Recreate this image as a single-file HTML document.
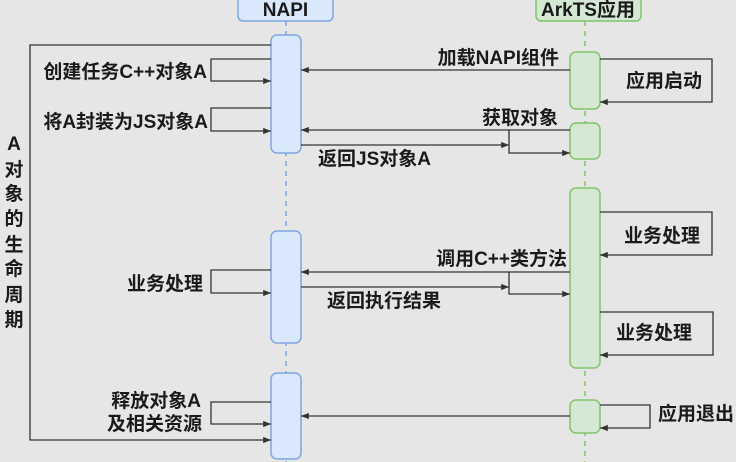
<!DOCTYPE html>
<html><head><meta charset="utf-8"><style>
html,body{margin:0;padding:0;background:#e6e6e6;}
svg{display:block;}
text{font-family:"Liberation Sans","Noto Sans CJK SC",sans-serif;font-weight:bold;font-size:19px;fill:#1a1a1a;}
</style></head><body>
<svg width="736" height="462" viewBox="0 0 736 462" xmlns="http://www.w3.org/2000/svg">
<defs>
<marker id="a" viewBox="0 0 10 10" refX="10" refY="5" markerWidth="6" markerHeight="6" orient="auto"><path d="M0,1 L10,5 L0,9 z" fill="#333"/></marker>
</defs>
<rect width="736" height="462" fill="#e6e6e6"/>
<line x1="286" y1="21" x2="286" y2="462" stroke="#7ea6e0" stroke-width="1.5" stroke-dasharray="5,5"/>
<line x1="585" y1="21" x2="585" y2="462" stroke="#82c46a" stroke-width="1.5" stroke-dasharray="5,5"/>
<rect x="238" y="-6" width="95" height="27" rx="5" fill="#dae8fc" stroke="#7ea6e0" stroke-width="1.5"/>
<text x="285.5" y="16" text-anchor="middle">NAPI</text>
<rect x="536" y="-6" width="105" height="27" rx="5" fill="#d5e8d4" stroke="#82c46a" stroke-width="1.5"/>
<text x="588" y="16" text-anchor="middle">ArkTS应用</text>
<g fill="#dae8fc" stroke="#7ea6e0" stroke-width="1.5">
<rect x="271" y="35" width="30" height="118" rx="6"/>
<rect x="271" y="231" width="30" height="112" rx="6"/>
<rect x="271" y="373" width="30" height="86" rx="6"/>
</g>
<g fill="#d5e8d4" stroke="#82c46a" stroke-width="1.5">
<rect x="570" y="52" width="30" height="57" rx="6"/>
<rect x="570" y="123" width="30" height="36" rx="6"/>
<rect x="570" y="188" width="30" height="180" rx="6"/>
<rect x="570" y="400" width="30" height="33" rx="6"/>
</g>
<g fill="none" stroke="#333" stroke-width="1.3" marker-end="url(#a)">
<polyline points="271,45 30,45 30,440 271,440"/>
<polyline points="271,59 211,59 211,81 271,81"/>
<polyline points="271,108 211,108 211,131 271,131"/>
<polyline points="271,270 211,270 211,293 271,293"/>
<polyline points="271,402 211,402 211,424 271,424"/>
<line x1="570" y1="70" x2="301" y2="70"/>
<line x1="570" y1="130" x2="301" y2="130"/>
<line x1="301" y1="145" x2="509" y2="145"/>
<polyline points="509,130 509,153 570,153"/>
<line x1="570" y1="272" x2="301" y2="272"/>
<line x1="301" y1="287" x2="509" y2="287"/>
<polyline points="509,272 509,294 570,294"/>
<line x1="570" y1="416" x2="301" y2="416"/>
<polyline points="600,59 712,59 712,102 600,102"/>
<polyline points="600,212 712,212 712,255 600,255"/>
<polyline points="600,312 713,312 713,355 600,355"/>
<polyline points="600,405 650,405 650,428 600,428"/>
</g>
<text x="207" y="78" text-anchor="end">创建任务C++对象A</text>
<text x="208" y="128" text-anchor="end">将A封装为JS对象A</text>
<text x="203" y="290" text-anchor="end">业务处理</text>
<text x="201" y="407" text-anchor="end">释放对象A</text>
<text x="202" y="430" text-anchor="end">及相关资源</text>
<text x="559" y="64" text-anchor="end">加载NAPI组件</text>
<text x="558" y="124" text-anchor="end">获取对象</text>
<text x="318" y="165">返回JS对象A</text>
<text x="567" y="265" text-anchor="end">调用C++类方法</text>
<text x="327" y="307">返回执行结果</text>
<text x="664" y="87" text-anchor="middle">应用启动</text>
<text x="662" y="242" text-anchor="middle">业务处理</text>
<text x="654" y="339" text-anchor="middle">业务处理</text>
<text x="658" y="420">应用退出</text>
<g text-anchor="middle">
<text x="14" y="150">A</text>
<text x="14" y="176">对</text>
<text x="14" y="200">象</text>
<text x="14" y="225">的</text>
<text x="14" y="251">生</text>
<text x="14" y="275">命</text>
<text x="14" y="301">周</text>
<text x="14" y="326">期</text>
</g>
</svg>
</body></html>
